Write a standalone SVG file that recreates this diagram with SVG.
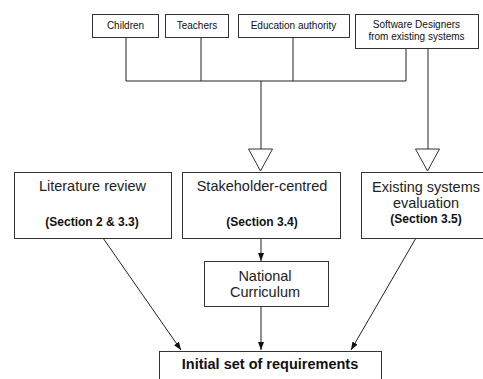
<svg xmlns="http://www.w3.org/2000/svg" width="483" height="379" viewBox="0 0 483 379">
<defs>
<marker id="ah" viewBox="0 0 8 6" refX="8" refY="3" markerWidth="8" markerHeight="6" markerUnits="userSpaceOnUse" orient="auto">
<path d="M0,0 L8,3 L0,6 Z" fill="#111"/>
</marker>
</defs>
<style>
.box{fill:#fff;stroke:#333;stroke-width:1}
.ln{fill:none;stroke:#222;stroke-width:1}
.tri{fill:#fff;stroke:#333;stroke-width:1}
.s{font-family:"Liberation Sans",Arial,sans-serif;font-size:10px;fill:#111;text-anchor:middle}
.m{font-family:"Liberation Sans",Arial,sans-serif;font-size:14.5px;fill:#222;text-anchor:middle}
.b{font-family:"Liberation Sans",Arial,sans-serif;font-size:12px;font-weight:bold;fill:#111;text-anchor:middle}
.bb{font-family:"Liberation Sans",Arial,sans-serif;font-size:14.5px;font-weight:bold;fill:#111;text-anchor:middle}
</style>
<rect width="483" height="379" fill="#fff"/>
<g id="connectors">
<path class="ln" d="M126,37 V81 M201,37 V81 M293,37 V81 M406,48 V81 M126,81 H406 M261,81 V149 M428,48 V149"/>
<polygon class="tri" points="248.5,149 272.5,149 260.5,171"/>
<polygon class="tri" points="415.5,149 439.5,149 427.5,171"/>
<line class="ln" x1="261" y1="238" x2="261" y2="261" marker-end="url(#ah)"/>
<line class="ln" x1="261" y1="306" x2="261" y2="350" marker-end="url(#ah)"/>
<line class="ln" x1="103" y1="238" x2="181" y2="350" marker-end="url(#ah)"/>
<line class="ln" x1="416" y1="238" x2="351" y2="350" marker-end="url(#ah)"/>
</g>
<g id="children"><rect class="box" x="92.5" y="14.5" width="66" height="23"/><text class="s" x="125.5" y="29">Children</text></g>
<g id="teachers"><rect class="box" x="165.5" y="14.5" width="63" height="23"/><text class="s" x="197" y="29">Teachers</text></g>
<g id="education"><rect class="box" x="238.5" y="14.5" width="111" height="23"/><text class="s" x="293.5" y="29">Education authority</text></g>
<g id="software"><rect class="box" x="355.5" y="14.5" width="123" height="34"/><text class="s" x="416.5" y="28">Software Designers</text><text class="s" x="416.5" y="40">from existing systems</text></g>
<g id="literature"><rect class="box" x="14.5" y="172.5" width="157" height="66"/><text class="m" x="92.5" y="191">Literature review</text><text class="b" x="92" y="226">(Section 2 &amp; 3.3)</text></g>
<g id="stakeholder"><rect class="box" x="182.5" y="172.5" width="158" height="66"/><text class="m" x="262" y="191">Stakeholder-centred</text><text class="b" x="262" y="226">(Section 3.4)</text></g>
<g id="existing"><rect class="box" x="361.5" y="172.5" width="130" height="66"/><text class="m" x="426" y="192">Existing systems</text><text class="m" x="426" y="208">evaluation</text><text class="b" x="426" y="223">(Section 3.5)</text></g>
<g id="national"><rect class="box" x="204.5" y="261.5" width="124" height="45"/><text class="m" x="265" y="281">National</text><text class="m" x="265" y="297">Curriculum</text></g>
<g id="initial"><rect class="box" x="159.5" y="351.5" width="222" height="40"/><text class="bb" x="270" y="369">Initial set of requirements</text></g>
</svg>
